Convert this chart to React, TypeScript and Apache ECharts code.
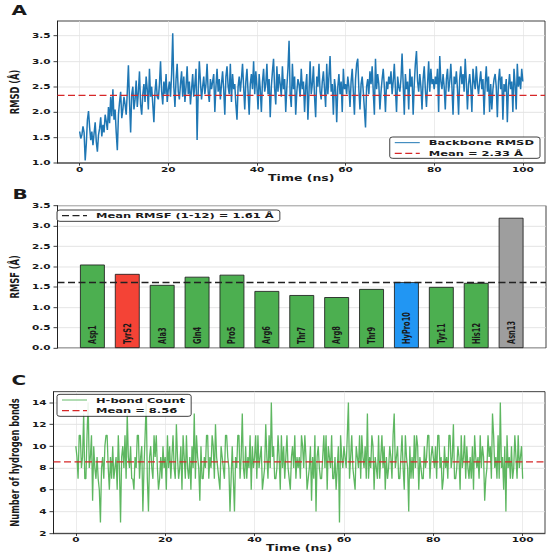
import React, { useEffect, useRef } from "react";
import * as echarts from "echarts";

// ---------- data ----------
const TIME_STEP_NS = 0.25;
const TIME_MIN = -5;
const TIME_MAX = 105;
const timeTicks = [0, 20, 40, 60, 80, 100];

const rmsdValues = [
  1.62, 1.48, 1.55, 1.72, 1.60, 1.05, 1.38, 1.85, 2.02, 1.70, 1.45, 1.62, 1.35, 1.58, 1.80, 1.42, 1.22, 1.55, 1.68, 1.90,
  1.52, 1.75, 1.60, 1.95, 1.82, 1.65, 2.10, 1.78, 2.30, 1.92, 2.45, 1.85, 2.05, 1.60, 1.25, 1.95, 2.20, 2.40, 1.88, 2.05,
  2.30, 2.15, 1.95, 2.40, 2.92, 2.20, 1.60, 2.35, 2.50, 2.05, 2.25, 2.62, 2.10, 2.40, 2.80, 2.15, 1.95, 2.35, 2.55, 2.20,
  2.70, 2.45, 2.05, 2.85, 2.30, 2.50, 2.15, 1.80, 2.40, 2.65, 2.30, 2.25, 2.55, 3.00, 2.40, 2.15, 2.60, 2.35, 2.75, 2.20,
  2.45, 2.60, 2.30, 2.75, 3.55, 2.50, 2.10, 2.65, 2.95, 2.40, 2.25, 2.55, 2.80, 2.30, 2.70, 2.20, 2.50, 2.90, 2.35, 2.60,
  2.15, 2.45, 2.75, 2.30, 2.55, 2.85, 1.45, 2.40, 3.00, 2.60, 2.25, 2.50, 2.70, 2.35, 2.55, 2.95, 2.40, 2.20, 2.65, 2.45,
  2.60, 2.75, 2.00, 2.50, 2.85, 2.40, 2.65, 2.25, 2.55, 2.80, 2.45, 1.95, 2.70, 2.90, 2.50, 2.35, 2.95, 2.20, 2.75, 2.45,
  2.55, 2.15, 1.85, 2.50, 2.70, 2.40, 2.65, 2.95, 2.50, 2.05, 2.60, 2.85, 2.40, 1.95, 2.55, 2.75, 2.45, 3.00, 2.35, 2.80,
  2.50, 2.05, 2.75, 2.45, 2.00, 2.60, 2.85, 2.40, 2.55, 2.95, 2.35, 2.65, 1.90, 2.50, 2.80, 3.05, 2.45, 2.15, 2.90, 2.40,
  2.75, 2.55, 2.30, 2.90, 2.45, 2.65, 2.00, 2.50, 2.85, 3.40, 2.35, 2.10, 2.95, 2.45, 2.70, 1.95, 2.40, 2.65, 2.55, 2.30,
  2.85, 2.45, 2.60, 2.00, 2.50, 2.75, 1.85, 2.40, 3.00, 2.35, 2.55, 2.90, 2.30, 1.90, 2.70, 2.50, 2.95, 2.40, 2.25, 2.60,
  2.80, 2.45, 2.10, 2.95, 2.35, 2.70, 3.10, 2.40, 2.55, 1.95, 2.65, 2.45, 1.80, 2.50, 2.75, 2.35, 2.60, 2.00, 2.85, 2.45,
  2.55, 2.35, 2.70, 2.50, 2.10, 2.60, 2.85, 2.40, 1.95, 2.65, 2.95, 3.05, 2.45, 2.05, 2.55, 2.70, 2.40, 2.05, 1.70, 2.50,
  2.65, 2.35, 2.80, 2.55, 2.90, 2.40, 1.95, 3.05, 2.45, 2.75, 2.55, 2.05, 2.40, 2.65, 2.85, 2.50, 2.00, 2.60, 2.45, 2.70,
  2.55, 2.80, 2.35, 2.60, 2.95, 2.45, 2.00, 2.70, 2.50, 2.40, 2.65, 3.15, 2.55, 1.95, 2.75, 2.45, 2.60, 2.05, 2.85, 2.50,
  2.70, 1.95, 2.55, 2.95, 3.20, 2.60, 2.40, 2.75, 2.50, 2.05, 2.65, 2.90, 2.45, 2.10, 2.55, 3.00, 2.40, 2.85, 2.55, 2.65,
  2.45, 2.70, 2.55, 2.85, 2.00, 3.10, 2.60, 2.45, 2.75, 2.50, 2.05, 2.65, 2.85, 2.40, 2.60, 2.95, 2.50, 1.95, 2.70, 2.55,
  2.80, 2.45, 1.95, 2.65, 2.90, 2.55, 2.75, 2.40, 3.05, 2.60, 2.05, 2.55, 2.75, 2.50, 2.00, 2.85, 2.60, 2.45, 2.90, 2.55,
  2.35, 2.60, 2.80, 2.45, 2.65, 1.95, 2.55, 2.90, 2.40, 2.70, 2.00, 2.55, 2.05, 2.45, 2.65, 2.75, 2.50, 1.90, 2.60, 2.85,
  2.45, 2.70, 1.85, 2.55, 2.40, 2.65, 1.80, 2.50, 2.75, 2.45, 2.60, 2.00, 2.85, 2.55, 2.05, 2.95, 2.50, 2.70, 2.45, 2.85,
  2.60,
];

const hbondValues = [
  10, 9, 7, 11, 11, 8, 9, 13, 7, 7, 11, 14, 8, 9, 11, 5, 10, 8, 7, 9, 7, 6, 3, 8, 9, 7, 10, 11, 11, 8, 6, 9, 7, 10, 7, 8, 9, 6, 11, 8,
  3, 9, 10, 8, 11, 7, 13, 9, 8, 10, 7, 7, 6, 9, 8, 11, 11, 7, 9, 10, 4, 8, 11, 14, 7, 4, 9, 10, 8, 7, 11, 9, 11, 8, 6, 7, 9, 7, 10, 8,
  9, 6, 11, 8, 10, 7, 9, 11, 8, 7, 12, 9, 7, 8, 10, 6, 11, 9, 7, 11, 8, 7, 9, 6, 10, 8, 13, 7, 11, 9, 8, 5, 10, 7, 7, 9, 8, 11, 11, 7,
  9, 8, 11, 10, 7, 12, 9, 8, 7, 6, 10, 9, 8, 7, 11, 11, 9, 8, 4, 7, 10, 7, 4, 9, 8, 11, 11, 7, 9, 13, 8, 7, 10, 7, 9, 8, 11, 6, 10, 8,
  9, 11, 7, 11, 8, 9, 10, 6, 7, 8, 12, 9, 7, 11, 8, 14, 9, 10, 7, 7, 8, 11, 9, 6, 11, 8, 10, 7, 9, 11, 8, 7, 6, 9, 10, 8, 11, 7, 9, 8,
  9, 7, 11, 10, 8, 11, 9, 6, 7, 8, 10, 5, 9, 7, 11, 4, 9, 10, 8, 7, 7, 9, 11, 8, 11, 6, 10, 9, 8, 11, 7, 7, 9, 6, 8, 10, 3, 11, 9, 8,
  10, 9, 8, 11, 14, 7, 9, 11, 8, 7, 6, 10, 9, 8, 11, 7, 11, 9, 8, 10, 7, 13, 7, 9, 8, 11, 10, 6, 9, 8, 7, 11, 7, 9, 11, 8, 10, 6, 9, 7,
  8, 10, 9, 7, 11, 13, 8, 9, 10, 7, 7, 9, 11, 8, 6, 11, 9, 8, 4, 10, 7, 9, 7, 11, 8, 11, 10, 6, 9, 8, 7, 7, 10, 8, 9, 11, 11, 7, 9, 10,
  9, 8, 10, 7, 11, 11, 8, 9, 6, 7, 10, 8, 9, 7, 11, 11, 8, 9, 12, 7, 7, 8, 10, 9, 6, 11, 8, 9, 11, 7, 10, 8, 7, 9, 7, 10, 6, 11, 9, 8,
  9, 7, 11, 8, 10, 9, 5, 7, 8, 11, 9, 10, 7, 13, 11, 8, 9, 7, 11, 7, 14, 8, 9, 6, 10, 4, 11, 8, 9, 7, 10, 7, 8, 11, 9, 7, 11, 8, 9, 10,
  7,
];

const residueNames = ["Asp1", "TyrS2", "Ala3", "Gln4", "Pro5", "Arg6", "Thr7", "Arg8", "Thr9", "HyPro10", "Tyr11", "His12", "Asn13"];
const rmsfValues = [2.05, 1.82, 1.55, 1.75, 1.80, 1.40, 1.30, 1.25, 1.45, 1.62, 1.50, 1.60, 3.20];
const residueColors = [
  "#4CAF50", "#F44336", "#4CAF50", "#4CAF50", "#4CAF50", "#4CAF50", "#4CAF50",
  "#4CAF50", "#4CAF50", "#2196F3", "#4CAF50", "#4CAF50", "#9E9E9E",
];

const rmsdMean = 2.33;
const rmsfMean = 1.61;
const hbondMean = 8.56;
const rmsdTicks = [1.0, 1.5, 2.0, 2.5, 3.0, 3.5];
const rmsfTicks = [0, 0.5, 1.0, 1.5, 2.0, 2.5, 3.0, 3.5];
const hbondTicks = [2, 4, 6, 8, 10, 12, 14];

// ---------- layout ----------
const W = 550;
const H = 834;
const SCALE = 556 / H;
const FONT = "DejaVu Sans";
const INK = "#1a1a1a";
const BLUE = "#1f77b4";
const RED = "#d62728";
const GREEN = "#4CAF50";
const DARK = "#222222";
const DASH = [7, 3.5];

const tickText = { color: INK, fontFamily: FONT, fontWeight: "bold" as const, fontSize: 10.5 };
const titleText = { color: INK, fontFamily: FONT, fontWeight: "bold" as const, fontSize: 12.5 };

function timeAxis(gridIndex: number) {
  return {
    type: "value",
    gridIndex,
    min: TIME_MIN,
    max: TIME_MAX,
    splitNumber: 5,
    axisLine: { show: true, onZero: false, lineStyle: { color: INK, width: 1 } },
    axisTick: { show: true, length: 4, lineStyle: { color: INK, width: 1 }, customValues: timeTicks },
    axisLabel: {
      ...tickText,
      margin: 4,
      customValues: timeTicks,
      formatter: (v: number) => (timeTicks.includes(v) ? String(v) : ""),
    },
    splitLine: { show: true, lineStyle: { color: "#e3e3e3", width: 0.8 } },
    name: "Time (ns)",
    nameLocation: "middle",
    nameGap: 16,
    nameTextStyle: { ...titleText, fontSize: 12.5 },
  };
}

function valueAxis(gridIndex: number, min: number, max: number, interval: number, ticks: number[], digits: number, name: string, nameGap: number) {
  return {
    type: "value",
    gridIndex,
    min,
    max,
    interval,
    axisLine: { show: true, onZero: false, lineStyle: { color: INK, width: 1 } },
    axisTick: { show: true, length: 4, lineStyle: { color: INK, width: 1 }, customValues: ticks },
    axisLabel: {
      ...tickText,
      margin: 7,
      customValues: ticks,
      formatter: (v: number) => (ticks.some((t) => Math.abs(t - v) < 1e-9) ? v.toFixed(digits) : ""),
    },
    splitLine: { show: true, lineStyle: { color: "#dedede", width: 1 } },
    name,
    nameLocation: "middle",
    nameGap,
    nameTextStyle: titleText,
  };
}

const gridBase = { left: 51, show: true, borderColor: INK, borderWidth: 1, backgroundColor: "transparent" };

const legendBase = {
  orient: "vertical",
  itemWidth: 25,
  itemHeight: 12,
  itemGap: 4,
  borderColor: INK,
  borderWidth: 1,
  borderRadius: 3,
  backgroundColor: "rgba(255,255,255,0.88)",
  selectedMode: false,
  itemStyle: { opacity: 0 },
  textStyle: { color: INK, fontFamily: FONT, fontWeight: "bold", fontSize: 11.5, padding: [0, 0, 0, 4] },
};

const meanRmsdName = `Mean = ${rmsdMean.toFixed(2)} Å`;
const meanRmsfName = `Mean RMSF (1-12) = ${rmsfMean.toFixed(2)} Å`;
const meanHbondName = `Mean = ${hbondMean.toFixed(2)}`;

function legendItem(name: string, color: string, width: number, type: any) {
  return { name, lineStyle: { color, width, type, opacity: 1 }, itemStyle: { opacity: 0 } };
}

const option = {
  animation: false,
  backgroundColor: "#ffffff",
  color: [BLUE, RED, GREEN, DARK, GREEN, RED],
  textStyle: { fontFamily: FONT },
  grid: [
    { ...gridBase, width: 494, top: 31.5, height: 213 },
    { ...gridBase, width: 495, top: 308.5, height: 213.5 },
    { ...gridBase, width: 494, top: 587.5, height: 212.5 },
  ],
  xAxis: [
    timeAxis(0),
    { type: "value", gridIndex: 1, min: -1, max: 13, show: false, axisLine: { onZero: false }, splitLine: { show: false } },
    timeAxis(2),
  ],
  yAxis: [
    valueAxis(0, 1.0, 3.79, 0.5, rmsdTicks, 1, "RMSD (Å)", 31),
    valueAxis(1, 0, 3.5, 0.5, rmsfTicks, 1, "RMSF (Å)", 31),
    valueAxis(2, 2, 15, 2, hbondTicks, 0, "Number of hydrogen bonds", 27),
  ],
  legend: [
    {
      ...legendBase,
      data: [legendItem("Backbone RMSD", BLUE, 1.5, "solid"), legendItem(meanRmsdName, RED, 2, DASH)],
      right: 10,
      top: 205.5,
      padding: [2.5, 6, 1.5, 4],
    },
    {
      ...legendBase,
      data: [legendItem(meanRmsfName, DARK, 2, DASH)],
      left: 57,
      top: 315,
      padding: [2.5, 6, 2.5, 4],
    },
    {
      ...legendBase,
      data: [legendItem("H-bond Count", GREEN, 1.3, "solid"), legendItem(meanHbondName, RED, 2, DASH)],
      left: 57,
      top: 591.5,
      padding: [2.5, 6, 2.5, 4],
    },
  ],
  graphic: [
    { type: "text", x: 11.5, y: 16, style: { text: "A", fill: INK, fontFamily: FONT, fontWeight: "bold", fontSize: 20, verticalAlign: "middle" } },
    { type: "text", x: 12.5, y: 291, style: { text: "B", fill: INK, fontFamily: FONT, fontWeight: "bold", fontSize: 20, verticalAlign: "middle" } },
    { type: "text", x: 11.5, y: 570.5, style: { text: "C", fill: INK, fontFamily: FONT, fontWeight: "bold", fontSize: 20, verticalAlign: "middle" } },
  ],
  series: [
    {
      type: "line",
      name: "Backbone RMSD",
      color: BLUE,
      xAxisIndex: 0,
      yAxisIndex: 0,
      data: rmsdValues.map((v, i) => [i * TIME_STEP_NS, v]),
      symbol: "none",
      lineStyle: { color: BLUE, width: 1.5 },
      itemStyle: { color: BLUE },
      z: 2,
    },
    {
      type: "line",
      name: meanRmsdName,
      color: RED,
      xAxisIndex: 0,
      yAxisIndex: 0,
      data: [[TIME_MIN, rmsdMean], [TIME_MAX, rmsdMean]],
      symbol: "none",
      lineStyle: { color: RED, width: 2, type: DASH },
      itemStyle: { color: RED },
      z: 3,
    },
    {
      type: "bar",
      name: "RMSF",
      color: GREEN,
      xAxisIndex: 1,
      yAxisIndex: 1,
      barWidth: 25,
      data: rmsfValues.map((v, i) => ({ name: residueNames[i], value: [i, v], itemStyle: { color: residueColors[i] } })),
      itemStyle: { borderColor: INK, borderWidth: 1 },
      label: {
        show: true,
        position: "insideBottom",
        rotate: 90,
        align: "left",
        verticalAlign: "middle",
        distance: 6,
        formatter: "{b}",
        color: INK,
        fontFamily: FONT,
        fontWeight: "bold",
        fontSize: 10,
      },
      z: 2,
    },
    {
      type: "line",
      name: meanRmsfName,
      color: DARK,
      xAxisIndex: 1,
      yAxisIndex: 1,
      data: [[-1, rmsfMean], [13, rmsfMean]],
      symbol: "none",
      lineStyle: { color: DARK, width: 2, type: DASH },
      itemStyle: { color: DARK },
      z: 3,
    },
    {
      type: "line",
      name: "H-bond Count",
      color: GREEN,
      xAxisIndex: 2,
      yAxisIndex: 2,
      data: hbondValues.map((v, i) => [i * TIME_STEP_NS, v]),
      symbol: "none",
      lineStyle: { color: GREEN, width: 1.3, opacity: 0.9 },
      itemStyle: { color: GREEN },
      z: 2,
    },
    {
      type: "line",
      name: meanHbondName,
      color: RED,
      xAxisIndex: 2,
      yAxisIndex: 2,
      data: [[TIME_MIN, hbondMean], [TIME_MAX, hbondMean]],
      symbol: "none",
      lineStyle: { color: RED, width: 2, type: DASH },
      itemStyle: { color: RED },
      z: 3,
    },
  ],
};

export default function App() {
  const ref = useRef<HTMLDivElement>(null);
  useEffect(() => {
    const el = ref.current;
    if (!el) return;
    const chart = echarts.init(el, null, { renderer: "svg", width: W, height: H });
    chart.setOption(option as any);
    return () => chart.dispose();
  }, []);
  return (
    <div
      ref={ref}
      style={{
        position: "absolute",
        left: 0,
        top: 0,
        width: W,
        height: H,
        transform: `scaleY(${SCALE})`,
        transformOrigin: "0 0",
        background: "#ffffff",
      }}
    />
  );
}
